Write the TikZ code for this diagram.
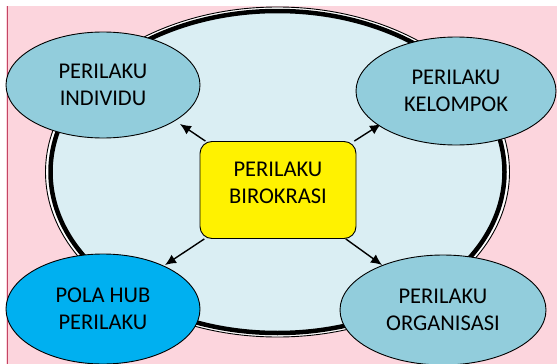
\documentclass[tikz,border=0pt]{standalone}
\usepackage{fontspec}
\setmainfont{Carlito}
\usetikzlibrary{arrows.meta,shapes.geometric}
\definecolor{pinkbg}{RGB}{252,213,221}
\definecolor{roseline}{RGB}{196,70,100}
\definecolor{paleblue}{RGB}{218,238,243}
\definecolor{aquafill}{RGB}{146,205,220}
\definecolor{cyanfill}{RGB}{0,176,240}
\tikzset{
  outerring/.style={draw=black, line width=0.9pt, fill=white},
  innerring/.style={draw=black, line width=4.5pt, fill=paleblue},
  topic/.style={ellipse, draw=black, line width=0.9pt, fill=aquafill, inner sep=0pt,
    minimum width=196pt, minimum height=108pt, align=center,
    font=\fontsize{22.5}{27}\selectfont},
  centrebox/.style={rectangle, rounded corners=12pt, draw=black, line width=0.9pt,
    fill=yellow, minimum width=156pt, minimum height=97pt, inner sep=0pt},
  boxtext/.style={align=center, font=\fontsize{22.5}{27}\selectfont},
  arrowline/.style={-{Latex[length=11pt,width=10pt]}, line width=1.4pt},
}

\begin{document}
\begin{tikzpicture}[x=1pt,y=-1pt]
    \useasboundingbox (0,0) rectangle (557,364);
    \clip (0,0) rectangle (557,364);
    % page background and left margin line
    \fill[pinkbg] (6,6) rectangle (557,364);
    \draw[roseline, line width=1pt] (7,6) -- (7,364);
    % big ellipse with thick-thin border
    \draw[outerring] (277.5,172) ellipse [x radius=232, y radius=165];
    \draw[innerring] (277.5,172) ellipse [x radius=227, y radius=161];
    % centre box
    \node[centrebox, label={[boxtext, yshift=7pt]center:PERILAKU\\BIROKRASI}]
      (birokrasi) at (278,190) {};
    % arrow tips, just off the topic ellipses
    \coordinate (tipI) at (180,124);
    \coordinate (tipK) at (381,124);
    \coordinate (tipP) at (165,265);
    \coordinate (tipO) at (382,265);
    \foreach \t in {tipI,tipK,tipP,tipO}
      { \draw[arrowline] (birokrasi) -- (\t); }
    % topics
    \node[topic, minimum width=194pt, minimum height=106pt] (individu) at (103,85)
      {PERILAKU\\INDIVIDU};
    \node[topic, minimum width=200pt] (kelompok) at (456,91)
      {PERILAKU\\KELOMPOK};
    \node[topic, fill=cyanfill, minimum width=194pt, minimum height=110pt] (polahub) at (103,309)
      {POLA HUB\\PERILAKU};
    \node[topic, minimum width=206pt, minimum height=110pt] (organisasi) at (443,310)
      {PERILAKU\\ORGANISASI};
\end{tikzpicture}
\end{document}
